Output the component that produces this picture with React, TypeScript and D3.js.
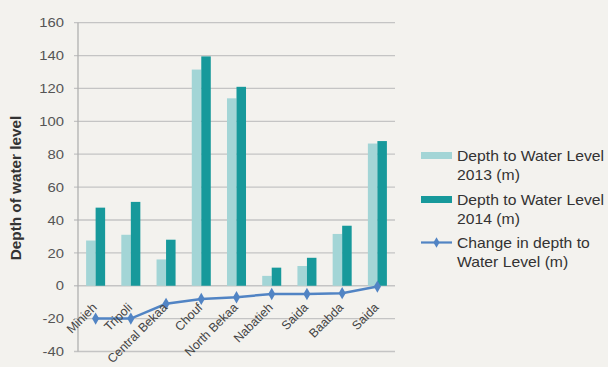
import React from "react";
import * as d3 from "d3";

const categories = ["Minieh", "Tripoli", "Central Bekaa", "Chouf", "North Bekaa", "Nabatieh", "Saida", "Baabda", "Saida"];
const depth2013 = [27.5, 31, 16, 131.5, 114, 6, 12, 31.5, 86.5];
const depth2014 = [47.5, 51, 28, 139.5, 121, 11, 17, 36.5, 88];
const change = [-20, -20, -11, -8, -7, -5, -5, -4.5, -0.5];
const yTicks = [-40, -20, 0, 20, 40, 60, 80, 100, 120, 140, 160];
const legendLabels = [
  ["Depth to Water Level", "2013 (m)"],
  ["Depth to Water Level", "2014 (m)"],
  ["Change in depth to", "Water Level (m)"],
];

const W = 608, H = 367;
const left = 78, right = 395, top = 22.7, bottom = 351.5;
const c2013 = "#a3d5d6", c2014 = "#17999b", cLine = "#5184c4";
const font = "'Liberation Sans', Arial, Helvetica, sans-serif";
const SX = 1.14;

export default function App() {
  const x = d3.scaleBand<number>().domain(d3.range(categories.length)).range([left, right]).paddingInner(0.46).paddingOuter(0.23);
  const sub = d3.scaleBand<number>().domain([0, 1]).range([0, x.bandwidth()]);
  const y = d3.scaleLinear().domain([-40, 160]).range([bottom, top]);
  const cx = (i: number) => (x(i) as number) + x.bandwidth() / 2;
  const line = d3.line<number>().x((_, i) => cx(i)).y(d => y(d));
  const diamond = d3.symbol().type(d3.symbolDiamond).size(44)();
  const diamondSmall = d3.symbol().type(d3.symbolDiamond).size(32)();
  return (
    <svg width={W} height={H} style={{ position: "absolute", left: 0, top: 0, background: "#f3f2ee" }} fontFamily={font}>
      <rect x={0} y={0} width={W} height={H} fill="#f3f2ee" />
      {yTicks.map(t => (
        <g key={t}>
          <line x1={left - 4} x2={right} y1={y(t)} y2={y(t)} stroke="#c4c4c4" strokeWidth={1.3} />
          <text transform={`translate(64,${y(t)}) scale(${SX},1)`} dy="0.36em" textAnchor="end" fontSize={13} fill="#555">{t}</text>
        </g>
      ))}
      <line x1={left} x2={left} y1={top} y2={bottom} stroke="#b0b0b0" strokeWidth={1.3} />
      <text transform={`translate(20.5,188) rotate(-90)`} textAnchor="middle" fontSize={15.3} fontWeight="bold" fill="#333">Depth of water level</text>
      {categories.map((c, i) => (
        <g key={i}>
          <rect x={(x(i) as number) + (sub(0) as number)} width={sub.bandwidth()} y={y(depth2013[i])} height={y(0) - y(depth2013[i])} fill={c2013} />
          <rect x={(x(i) as number) + (sub(1) as number)} width={sub.bandwidth()} y={y(depth2014[i])} height={y(0) - y(depth2014[i])} fill={c2014} />
        </g>
      ))}
      <path d={line(change) || ""} fill="none" stroke={cLine} strokeWidth={2.5} />
      {change.map((v, i) => (
        <path key={i} d={diamond || ""} transform={`translate(${cx(i)},${y(v)})`} fill={cLine} />
      ))}
      {categories.map((c, i) => (
        <text key={i} transform={`translate(${cx(i) + 2},${y(0) + 22.5}) rotate(-45)`} textAnchor="end" fontSize={12.4} fill="#444">{c}</text>
      ))}
      {legendLabels.map((lab, i) => {
        const base = [161, 205, 248][i];
        const my = base - 5.5;
        return (
          <g key={i}>
            {i < 2 ? (
              <rect x={421} y={my - 3.5} width={31} height={7} fill={i === 0 ? c2013 : c2014} />
            ) : (
              <g>
                <line x1={421} x2={452} y1={my} y2={my} stroke={cLine} strokeWidth={2.2} />
                <path d={diamondSmall || ""} transform={`translate(436.5,${my})`} fill={cLine} />
              </g>
            )}
            <text transform={`translate(457,${base}) scale(${SX},1)`} fontSize={13.8} fill="#333">{lab[0]}</text>
            <text transform={`translate(457,${base + 19}) scale(${SX},1)`} fontSize={13.8} fill="#333">{lab[1]}</text>
          </g>
        );
      })}
    </svg>
  );
}
